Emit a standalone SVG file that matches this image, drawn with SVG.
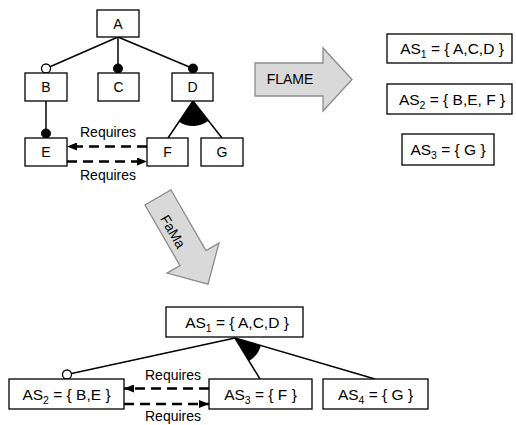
<svg xmlns="http://www.w3.org/2000/svg" width="516" height="425" viewBox="0 0 516 425">
  <style>
    .box { fill: #ffffff; stroke: #000000; stroke-width: 1.3; }
    .lbl { font-family: "Liberation Sans", Arial, sans-serif; font-size: 14px; fill: #000000; text-anchor: middle; }
    .as { font-family: "Liberation Sans", Arial, sans-serif; font-size: 15.5px; fill: #000000; text-anchor: middle; }
    .edge { stroke: #000000; stroke-width: 1.5; fill: none; }
    .req { stroke: #000000; stroke-width: 2.6; fill: none; stroke-dasharray: 10 6; }
    .opt { fill: #ffffff; stroke: #000000; stroke-width: 1.3; }
    .mand { fill: #000000; stroke: #000000; stroke-width: 1; }
    .wedge { fill: #000000; stroke: none; }
    .bigarrow { fill: #d9d9d9; stroke: #8c8c8c; stroke-width: 1.3; }
  </style>
  <defs>
    <marker id="head" markerUnits="userSpaceOnUse" markerWidth="11" markerHeight="8" refX="10" refY="4" orient="auto">
      <path d="M0,0 L10,4 L0,8 Z" fill="#000000"/>
    </marker>
  </defs>

  <rect width="516" height="425" fill="#ffffff"/>

  <!-- feature model connectors -->
  <g id="connectors-tree">
    <line class="edge" x1="118" y1="37" x2="46" y2="68.5"/>
    <line class="edge" x1="118" y1="37" x2="118" y2="68.5"/>
    <line class="edge" x1="118" y1="37" x2="193" y2="68.5"/>
    <line class="edge" x1="46" y1="101" x2="46" y2="133.5"/>
    <line class="edge" x1="193" y1="101" x2="168" y2="138"/>
    <line class="edge" x1="193" y1="101" x2="222" y2="138"/>
    <path class="wedge" d="M193,101 L179,121.7 A25,25 0 0 0 208.4,120.7 Z"/>
    <circle class="opt" cx="46" cy="68.5" r="4.5"/>
    <circle class="mand" cx="118" cy="68.5" r="4.5"/>
    <circle class="mand" cx="193" cy="68.5" r="4.5"/>
    <circle class="mand" cx="46" cy="133.5" r="4.5"/>
    <line class="req" x1="147" y1="146.5" x2="67" y2="146.5" marker-end="url(#head)"/>
    <line class="req" x1="67" y1="161.5" x2="147" y2="161.5" marker-end="url(#head)"/>
    <text class="lbl" x="108" y="137">Requires</text>
    <text class="lbl" x="108" y="180">Requires</text>
  </g>

  <!-- feature model nodes -->
  <g id="A"><rect class="box" x="97" y="10" width="42" height="27"/><text class="lbl" x="118" y="29">A</text></g>
  <g id="B"><rect class="box" x="25" y="73" width="42" height="28"/><text class="lbl" x="46" y="92">B</text></g>
  <g id="C"><rect class="box" x="98" y="73" width="41" height="28"/><text class="lbl" x="118.5" y="92">C</text></g>
  <g id="D"><rect class="box" x="172" y="73" width="41" height="28"/><text class="lbl" x="192.5" y="92">D</text></g>
  <g id="E"><rect class="box" x="25" y="138" width="42" height="28"/><text class="lbl" x="46" y="157">E</text></g>
  <g id="F"><rect class="box" x="147" y="138" width="41" height="28"/><text class="lbl" x="167.5" y="157">F</text></g>
  <g id="G"><rect class="box" x="201" y="138" width="42" height="28"/><text class="lbl" x="222" y="157">G</text></g>

  <!-- FLAME transformation arrow -->
  <g id="flame-arrow">
    <polygon class="bigarrow" points="255,63 323,63 323,48 352,79.5 323,111 323,96 255,96"/>
    <text class="lbl" x="290" y="84">FLAME</text>
  </g>

  <!-- FLAME atomic sets -->
  <g id="flame-as1">
    <rect class="box" x="387" y="34" width="125" height="29"/>
    <text class="as" x="452" y="54">AS<tspan font-size="10.5" dy="3.5">1</tspan><tspan dy="-3.5"> = { A,C,D }</tspan></text>
  </g>
  <g id="flame-as2">
    <rect class="box" x="387" y="84" width="125" height="30"/>
    <text class="as" x="452" y="105">AS<tspan font-size="10.5" dy="3.5">2</tspan><tspan dy="-3.5"> = { B,E, F }</tspan></text>
  </g>
  <g id="flame-as3">
    <rect class="box" x="402" y="134" width="92" height="31"/>
    <text class="as" x="448" y="155">AS<tspan font-size="10.5" dy="3.5">3</tspan><tspan dy="-3.5"> = { G }</tspan></text>
  </g>

  <!-- FaMa transformation arrow -->
  <g id="fama-arrow" transform="translate(158,197.5) rotate(60)">
    <polygon class="bigarrow" points="0,-15 70,-15 70,-30 100,0 70,30 70,15 0,15"/>
    <text class="lbl" x="37" y="9">FaMa</text>
  </g>

  <!-- atomic set model connectors -->
  <g id="connectors-as">
    <line class="edge" x1="235" y1="338" x2="67" y2="374.5"/>
    <line class="edge" x1="235" y1="338" x2="260" y2="379"/>
    <line class="edge" x1="235" y1="338" x2="375" y2="379"/>
    <path class="wedge" d="M235,338 L249.1,361.1 A27,27 0 0 0 260.9,345.6 Z"/>
    <circle class="opt" cx="67" cy="374.5" r="4.5"/>
    <line class="req" x1="209" y1="388.5" x2="124" y2="388.5" marker-end="url(#head)"/>
    <line class="req" x1="124" y1="404" x2="209" y2="404" marker-end="url(#head)"/>
    <text class="lbl" x="173" y="380">Requires</text>
    <text class="lbl" x="173" y="421">Requires</text>
  </g>

  <!-- atomic set model nodes -->
  <g id="AS1">
    <rect class="box" x="166" y="307" width="137" height="30"/>
    <text class="as" x="237" y="328">AS<tspan font-size="10.5" dy="3.5">1</tspan><tspan dy="-3.5"> = { A,C,D }</tspan></text>
  </g>
  <g id="AS2">
    <rect class="box" x="9" y="379" width="115" height="30"/>
    <text class="as" x="66.5" y="400">AS<tspan font-size="10.5" dy="3.5">2</tspan><tspan dy="-3.5"> = { B,E }</tspan></text>
  </g>
  <g id="AS3">
    <rect class="box" x="209" y="379" width="103" height="30"/>
    <text class="as" x="260.5" y="400">AS<tspan font-size="10.5" dy="3.5">3</tspan><tspan dy="-3.5"> = { F }</tspan></text>
  </g>
  <g id="AS4">
    <rect class="box" x="323" y="379" width="105" height="30"/>
    <text class="as" x="375.5" y="400">AS<tspan font-size="10.5" dy="3.5">4</tspan><tspan dy="-3.5"> = { G }</tspan></text>
  </g>
</svg>
